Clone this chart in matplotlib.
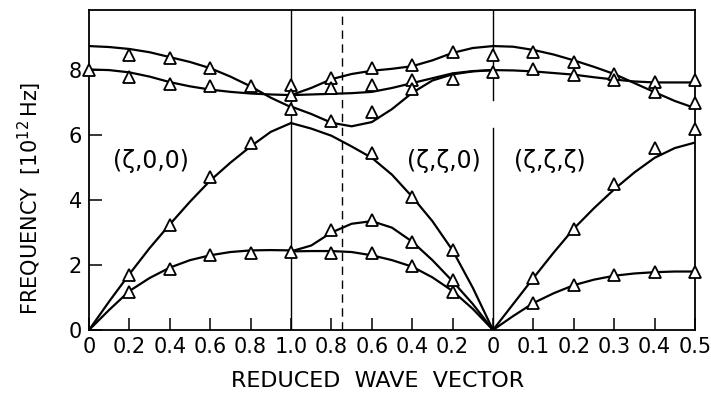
import matplotlib.pyplot as plt
import numpy as np

# phonon dispersion, three directions laid side by side
# (zeta,0,0): Gamma -> X
zeta_gx = [0, 0.1, 0.2, 0.3, 0.4, 0.5, 0.6, 0.7, 0.8, 0.9, 1.0]
gx_lo = [8.74, 8.71, 8.65, 8.55, 8.40, 8.25, 8.06, 7.80, 7.50, 7.15, 6.86]
gx_to = [8.02, 8.00, 7.93, 7.80, 7.63, 7.50, 7.40, 7.33, 7.28, 7.25, 7.23]
gx_la = [0, 0.88, 1.72, 2.52, 3.25, 3.95, 4.60, 5.15, 5.65, 6.10, 6.37]
gx_ta = [0, 0.62, 1.20, 1.60, 1.92, 2.15, 2.30, 2.40, 2.45, 2.46, 2.45]

# (zeta,zeta,0): X -> Gamma
zeta_xg = [1.0, 0.9, 0.8, 0.7, 0.6, 0.5, 0.4, 0.3, 0.2, 0.1, 0]
xg_up = [7.23, 7.45, 7.72, 7.88, 7.98, 8.04, 8.12, 8.30, 8.53, 8.68, 8.74]
xg_flat = [7.23, 7.25, 7.27, 7.29, 7.33, 7.45, 7.60, 7.75, 7.90, 7.97, 8.00]
xg_opt = [6.88, 6.65, 6.38, 6.27, 6.40, 6.80, 7.30, 7.68, 7.87, 7.96, 8.00]
xg_la = [6.37, 6.20, 5.98, 5.65, 5.30, 4.78, 4.10, 3.35, 2.45, 1.30, 0]
xg_ta2 = [2.42, 2.60, 3.00, 3.27, 3.35, 3.15, 2.72, 2.15, 1.50, 0.80, 0]
xg_ta1 = [2.42, 2.43, 2.43, 2.40, 2.30, 2.15, 1.95, 1.62, 1.20, 0.65, 0]

# (zeta,zeta,zeta): Gamma -> L
zeta_gl = [0, 0.05, 0.1, 0.15, 0.2, 0.25, 0.3, 0.35, 0.4, 0.45, 0.5]
gl_a = [8.74, 8.72, 8.62, 8.48, 8.30, 8.10, 7.88, 7.60, 7.32, 7.05, 6.83]
gl_b = [8.00, 7.99, 7.96, 7.91, 7.86, 7.78, 7.71, 7.65, 7.62, 7.62, 7.62]
gl_la = [0, 0.80, 1.60, 2.38, 3.12, 3.75, 4.33, 4.85, 5.30, 5.60, 5.77]
gl_ta = [0, 0.43, 0.83, 1.13, 1.38, 1.55, 1.67, 1.74, 1.78, 1.80, 1.80]

# measured points (triangles)
meas_gx_zeta = [0, 0.2, 0.2, 0.2, 0.2, 0.4, 0.4, 0.4, 0.4, 0.6, 0.6, 0.6, 0.6,
                0.8, 0.8, 0.8, 1.0, 1.0, 1.0, 1.0]
meas_gx_freq = [8.0, 8.46, 7.8, 1.69, 1.17, 8.37, 7.58, 3.23, 1.88, 8.06, 7.5, 4.7, 2.3,
                7.5, 5.75, 2.37, 7.54, 7.23, 6.8, 2.4]
meas_xg_zeta = [0.8, 0.8, 0.8, 0.8, 0.8, 0.6, 0.6, 0.6, 0.6, 0.6, 0.6,
                0.4, 0.4, 0.4, 0.4, 0.4, 0.4, 0.2, 0.2, 0.2, 0.2, 0.2, 0, 0]
meas_xg_freq = [7.75, 7.45, 6.42, 3.08, 2.37, 8.05, 7.55, 6.72, 5.45, 3.38, 2.37,
                8.15, 7.7, 7.42, 4.1, 2.7, 1.97, 8.56, 7.72, 2.46, 1.54, 1.17, 8.46, 7.94]
meas_gl_zeta = [0.1, 0.1, 0.1, 0.1, 0.2, 0.2, 0.2, 0.2, 0.3, 0.3, 0.3, 0.3,
                0.4, 0.4, 0.4, 0.4, 0.5, 0.5, 0.5, 0.5]
meas_gl_freq = [8.56, 8.03, 1.6, 0.83, 8.26, 7.85, 3.1, 1.38, 7.88, 7.68, 4.49, 1.7,
                7.64, 7.33, 5.6, 1.8, 7.7, 7.0, 6.2, 1.8]

tick_labels = ['0', '0.2', '0.4', '0.6', '0.8', '1.0', '0.8', '0.6', '0.4', '0.2',
               '0', '0.1', '0.2', '0.3', '0.4', '0.5']


# map each direction onto one shared x axis, each panel one unit wide
def x_gx(z):
    return np.asarray(z, dtype=float)

def x_xg(z):
    return 2.0 - np.asarray(z, dtype=float)

def x_gl(z):
    return 2.0 + 2.0 * np.asarray(z, dtype=float)


fig = plt.figure(figsize=(7.11, 3.96), dpi=100)
ax = fig.add_axes([89 / 711, 66 / 396, 606 / 711, 320 / 396])

lw = 1.6
for f in [gx_lo, gx_to, gx_la, gx_ta]:
    ax.plot(x_gx(zeta_gx), f, color='black', lw=lw)
for f in [xg_up, xg_flat, xg_opt, xg_la, xg_ta2, xg_ta1]:
    ax.plot(x_xg(zeta_xg), f, color='black', lw=lw)
for f in [gl_a, gl_b, gl_la, gl_ta]:
    ax.plot(x_gl(zeta_gl), f, color='black', lw=lw)

mk = dict(ls='none', marker='^', ms=9, mfc='white', mec='black', mew=1.3,
          zorder=5, clip_on=False)
ax.plot(x_gx(meas_gx_zeta), meas_gx_freq, **mk)
ax.plot(x_xg(meas_xg_zeta), meas_xg_freq, **mk)
ax.plot(x_gl(meas_gl_zeta), meas_gl_freq, **mk)

ymax = 9.85
# zone boundaries
ax.axvline(1.0, color='black', lw=1.0)
ax.axvline(x_xg(0.75), color='black', lw=1.0, ls=(0, (6, 4)))
ax.plot([2, 2], [0, 6.22], color='black', lw=1.0)
ax.plot([2, 2], [7.08, ymax], color='black', lw=1.0)

ax.text(x_gx(0.307), 5.2, '(ζ,0,0)', fontsize=17, ha='center', va='center')
ax.text(1.757, 5.2, '(ζ,ζ,0)', fontsize=17, ha='center', va='center')
ax.text(2.282, 5.2, '(ζ,ζ,ζ)', fontsize=17, ha='center', va='center')

xt = np.concatenate([x_gx([0, 0.2, 0.4, 0.6, 0.8, 1.0]),
                     x_xg([0.8, 0.6, 0.4, 0.2, 0]),
                     x_gl([0.1, 0.2, 0.3, 0.4, 0.5])])
ax.set_xticks(xt)
ax.set_xticklabels(tick_labels)
ax.set_yticks([0, 2, 4, 6, 8])
ax.set_yticklabels(['0', '2', '4', '6', '8'])
ax.tick_params(direction='in', length=9, width=1.1, labelsize=15, pad=5)
ax.set_xlim(0, 3)
ax.set_ylim(0, ymax)
for s in ax.spines.values():
    s.set_linewidth(1.3)

fig.text(30 / 711, 1 - 198 / 396, r'FREQUENCY  $\left[10^{12}\,\mathrm{Hz}\right]$',
         rotation=90, ha='center', va='center', fontsize=15)
fig.text(378 / 711, 1 - 381 / 396, 'REDUCED  WAVE  VECTOR',
         ha='center', va='center', fontsize=16)

fig.savefig('out.png', dpi=100)
